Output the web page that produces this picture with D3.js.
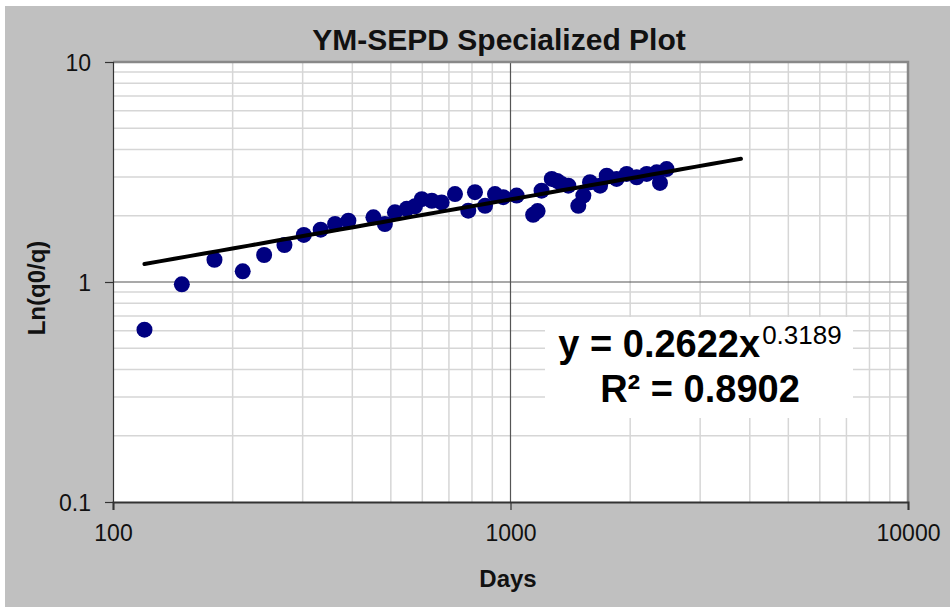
<!DOCTYPE html>
<html><head><meta charset="utf-8">
<script src="https://cdn.jsdelivr.net/npm/d3@7"></script>
<style>body{margin:0;background:#fff;}svg{display:block;font-family:"Liberation Sans",Arial,sans-serif;}</style>
</head><body><svg id="c" width="950" height="609"></svg>
<script>
const days = [120,149,180,212,240,270,302,333,362,391,452,483,512,548,575,598,634,671,725,783,814,863,914,959,1036,1140,1170,1197,1270,1310,1345,1398,1481,1525,1585,1680,1746,1849,1960,2077,2201,2332,2377,2470];
const lnq  = [0.607,0.976,1.262,1.118,1.327,1.473,1.636,1.729,1.835,1.90,1.968,1.835,2.074,2.15,2.21,2.38,2.34,2.30,2.51,2.11,2.56,2.22,2.51,2.43,2.47,2.02,2.10,2.60,2.94,2.88,2.79,2.74,2.22,2.47,2.84,2.74,3.04,2.94,3.10,2.99,3.10,3.15,2.82,3.26];
const fitCoef = [0.2622, 0.3189];
const fitRange = [120, 3800];
const xTicks = [100, 1000, 10000];
const yTicks = [0.1, 1, 10];
const xTickLabels = ["100","1000","10000"];
const yTickLabels = ["0.1","1","10"];
const titleText = "YM-SEPD Specialized Plot";
const xTitle = "Days", yTitle = "Ln(q0/q)";

const svg = d3.select("#c");
const L=113,R=908,T=62,B=502;
const x = d3.scaleLog().domain([100,10000]).range([L,R]);
const y = d3.scaleLog().domain([0.1,10]).range([B,T]);

svg.append("rect").attr("x",5).attr("y",6).attr("width",945).attr("height",601).attr("fill","#c0c0c0");
svg.append("rect").attr("x",L).attr("y",T).attr("width",R-L).attr("height",B-T).attr("fill","#fff");

// minor grid
const xMinor=[],yMinor=[];
[100,1000].forEach(b=>{for(let k=2;k<=9;k++)xMinor.push(b*k);});
[0.1,1].forEach(b=>{for(let k=2;k<=9;k++)yMinor.push(b*k);});
svg.append("g").selectAll("line").data(xMinor).join("line")
 .attr("x1",d=>x(d)).attr("x2",d=>x(d)).attr("y1",T).attr("y2",B)
 .attr("stroke","#d6d6d6").attr("stroke-width",1.5);
svg.append("g").selectAll("line").data(yMinor).join("line")
 .attr("y1",d=>y(d)).attr("y2",d=>y(d)).attr("x1",L).attr("x2",R)
 .attr("stroke","#d6d6d6").attr("stroke-width",1.5);
// major grid
svg.append("line").attr("x1",x(1000)).attr("x2",x(1000)).attr("y1",T).attr("y2",B).attr("stroke","#555").attr("stroke-width",1.2);
svg.append("line").attr("y1",y(1)).attr("y2",y(1)).attr("x1",L).attr("x2",R).attr("stroke","#555").attr("stroke-width",1.2);
// border top/right
svg.append("path").attr("d",`M${L},${T}H${R}V${B}`).attr("fill","none").attr("stroke","#888").attr("stroke-width",2.5);

// axes
const xa = svg.append("g").attr("transform",`translate(0,${B})`)
 .call(d3.axisBottom(x).tickValues(xTicks).tickFormat((d,i)=>xTickLabels[i]).tickSize(8).tickPadding(15));
const ya = svg.append("g").attr("transform",`translate(${L},0)`)
 .call(d3.axisLeft(y).tickValues(yTicks).tickFormat((d,i)=>yTickLabels[i]).tickSize(8).tickPadding(14));
[xa,ya].forEach(g=>{
  g.selectAll("text").attr("font-size",23).attr("fill","#111").attr("font-family","'Liberation Sans',Arial,sans-serif");
  g.selectAll(".tick line").attr("stroke","#333").attr("stroke-width",1.2);
});
xa.select(".domain").attr("stroke","#333").attr("stroke-width",2);
ya.select(".domain").attr("stroke","#333").attr("stroke-width",1.2);
ya.selectAll("text").attr("dy","0.35em");

// points
svg.append("g").selectAll("circle").data(days.map((d,i)=>[d,lnq[i]])).join("circle")
 .attr("cx",d=>x(d[0])).attr("cy",d=>y(d[1])).attr("r",8).attr("fill","#000080");

// fit line
const fx = d3.range(0,41).map(i=>fitRange[0]*Math.pow(fitRange[1]/fitRange[0],i/40));
svg.append("path").datum(fx)
 .attr("d",d3.line().x(d=>x(d)).y(d=>y(fitCoef[0]*Math.pow(d,fitCoef[1]))))
 .attr("fill","none").attr("stroke","#000").attr("stroke-width",4).attr("stroke-linecap","round");

// equation box
svg.append("rect").attr("x",545).attr("y",317).attr("width",308).attr("height",101).attr("fill","#fff");
const eq = svg.append("text").attr("x",700).attr("y",357).attr("text-anchor","middle").attr("fill","#000");
eq.append("tspan").attr("font-size",38).attr("font-weight","bold").text("y = 0.2622x");
eq.append("tspan").attr("font-size",26).attr("dy",-13).attr("dx",2).text("0.3189");
svg.append("text").attr("x",700).attr("y",402).attr("text-anchor","middle").attr("font-size",38).attr("font-weight","bold").text("R² = 0.8902");

// titles
svg.append("text").attr("x",499).attr("y",50).attr("text-anchor","middle").attr("font-size",30).attr("font-weight","bold").attr("fill","#111").text(titleText);
svg.append("text").attr("x",508).attr("y",587).attr("text-anchor","middle").attr("font-size",24).attr("font-weight","bold").attr("fill","#111").text(xTitle);
svg.append("text").attr("transform","translate(45,288) rotate(-90)").attr("text-anchor","middle").attr("font-size",24).attr("font-weight","bold").attr("fill","#111").text(yTitle);
</script></body></html>
